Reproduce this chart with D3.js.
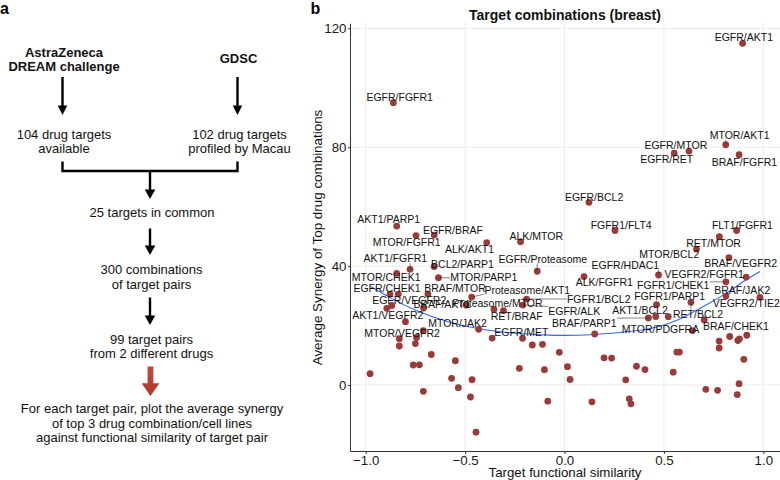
<!DOCTYPE html>
<html><head><meta charset="utf-8">
<script src="https://cdn.jsdelivr.net/npm/d3@7"></script>
<style>
body{margin:0;background:#fff}
svg{display:block}
text{font-family:"Liberation Sans",Arial,Helvetica,sans-serif}
</style>
</head><body>
<svg id="chart" width="780" height="480"></svg>
<script>
// ---------- data ----------
const similarity = [
 0.896,-0.861,0.811,0.626,0.552,0.878,0.123,-0.844,0.254,0.866,
 -0.655,-0.747,0.779,-0.391,-0.221,0.664,0.827,-0.777,-0.656,-0.137,
 -0.844,0.473,0.914,-0.634,0.098,0.812,-0.878,-0.836,-0.687,-0.467,
 -0.191,-0.894,-0.869,-0.709,-0.495,-0.355,-0.307,-0.210,0.812,0.983,
 0.463,0.636,0.422,0.459,0.522,0.703,0.644,0.152,-0.800,-0.432,
 -0.710,-0.744,-0.831,-0.750,-0.831,-0.364,-0.211,-0.162,-0.111,-0.026,
 -0.670,-0.549,-0.761,-0.730,-0.227,-0.101,0.015,-0.978,-0.568,-0.465,
 -0.534,-0.710,-0.473,-0.445,-0.084,0.028,0.138,0.199,0.237,0.308,
 0.326,0.334,0.362,0.405,0.547,0.565,0.578,0.711,0.770,0.778,
 0.778,0.831,0.872,0.880,0.917,0.902,0.878,0.869];
const synergy = [
 114.95,94.97,80.84,78.72,78.05,77.48,61.46,53.49,51.98,51.98,
 50.46,50.29,49.89,47.94,48.21,45.75,42.83,38.92,39.87,38.28,
 37.58,37.01,36.33,36.10,36.50,34.72,30.61,30.61,30.61,29.60,
 28.93,25.80,26.75,25.90,26.91,25.47,25.00,26.91,29.94,29.50,
 27.08,27.82,22.54,23.04,22.98,21.87,18.33,17.16,21.30,18.74,
 18.27,15.98,15.58,13.96,13.12,15.81,15.71,13.46,13.69,11.00,
 10.26,8.17,6.73,6.80,5.62,5.15,6.16,3.80,2.25,1.78,
 -0.91,-2.12,-4.04,-15.88,-5.45,1.85,-5.65,9.15,9.08,1.75,
 -4.64,-6.32,6.32,5.18,4.31,11.10,11.10,-1.45,-1.78,14.80,
 12.45,16.32,14.97,15.54,16.75,8.65,0.44,-3.20];

// labelled target pairs: name, index of its point (1-based)
const labelNames = ["EGFR/AKT1","EGFR/FGFR1","MTOR/AKT1","EGFR/MTOR","EGFR/RET","BRAF/FGFR1","EGFR/BCL2","AKT1/PARP1","FGFR1/FLT4","FLT1/FGFR1",
 "EGFR/BRAF","MTOR/FGFR1","RET/MTOR","ALK/AKT1","ALK/MTOR","MTOR/BCL2","BRAF/VEGFR2","AKT1/FGFR1","BCL2/PARP1","EGFR/Proteasome",
 "MTOR/CHEK1","EGFR/HDAC1","VEGFR2/FGFR1","MTOR/PARP1","ALK/FGFR1","FGFR1/CHEK1","EGFR/CHEK1","BRAF/MTOR","Proteasome/AKT1","FGFR1/BCL2",
 "EGFR/VEGFR2","BRAF/AKT1","Proteasome/MTOR","RET/BRAF","EGFR/ALK","BRAF/JAK2","VEGFR2/TIE2","FGFR1/PARP1","RET/BCL2","AKT1/BCL2",
 "BRAF/CHEK1","MTOR/PDGFRA","BRAF/PARP1","AKT1/VEGFR2","MTOR/JAK2","MTOR/VEGFR2","EGFR/MET"];
const labelPoint = [1,2,3,4,5,6,7,8,9,10, 11,12,13,14,15,16,17,18,19,20, 21,22,23,24,25,26,27,29,30,31,
 33,34,36,37,38,39,40,41,42,44, 46,47,43,49,50,51,57];
// repelled label centres, in data units
const labelX = [0.902,-0.829,0.881,0.560,0.514,0.905,0.149,-0.884,0.285,0.895,
 -0.561,-0.794,0.750,-0.478,-0.142,0.527,0.886,-0.851,-0.513,-0.109,
 -0.897,0.306,0.702,-0.406,0.200,0.547,-0.893,-0.551,-0.187,0.172,
 -0.781,-0.616,-0.337,-0.241,0.049,0.894,0.914,0.529,0.672,0.380,
 0.862,0.483,0.100,-0.889,-0.538,-0.817,-0.217];
const labelY = [116.9,96.7,84.0,80.5,76.0,74.9,63.2,55.7,53.7,53.7,
 52.2,48.1,47.8,45.7,49.9,44.0,40.8,42.5,40.7,42.3,
 36.3,40.2,37.4,36.3,34.7,33.5,32.5,32.5,32.0,28.7,
 28.5,27.2,27.5,23.0,24.8,32.0,27.5,29.8,23.8,25.0,
 19.8,18.9,20.9,23.4,20.9,17.3,17.9];

// smoothed trend
const smoothX = [-0.975,-0.945,-0.878,-0.743,-0.576,-0.408,-0.240,-0.073,0.0,0.145,0.313,0.480,0.565,0.648,0.730,0.816,0.900,0.983];
const smoothY = [33.2,32.0,29.4,25.0,21.1,18.7,17.4,16.8,16.7,17.0,17.9,19.8,21.8,24.6,27.6,31.0,34.8,38.2];

const xTicks = [-1,-0.5,0,0.5,1];
const yTicks = [0,40,80,120];

// flowchart text
const sourceLines = [["AstraZeneca","DREAM challenge"],["GDSC"]];
const countLines = [["104 drug targets","available"],["102 drug targets","profiled by Macau"]];
const stepLines = [["25 targets in common"],["300 combinations","of target pairs"],["99 target pairs","from 2 different drugs"]];
const resultLines = ["For each target pair, plot the average synergy","of top 3 drug combination/cell lines","against functional similarity of target pair"];

// ---------- drawing ----------
const svg = d3.select("#chart");
svg.append("rect").attr("width",780).attr("height",480).attr("fill","#fff");

// panel letters
svg.append("text").attr("x",0).attr("y",13.5).attr("font-size",16).attr("font-weight","bold").text("a");
svg.append("text").attr("x",310.5).attr("y",13.5).attr("font-size",16).attr("font-weight","bold").text("b");

// ---- panel a: flowchart ----
const fa = svg.append("g");
function arrow(x, y1, y2, w){
  w = w || 9.5;
  fa.append("line").attr("x1",x).attr("x2",x).attr("y1",y1).attr("y2",y2-8)
    .attr("stroke","#000").attr("stroke-width",2.4);
  fa.append("path").attr("d",`M${x-w/2},${y2-9.5}L${x+w/2},${y2-9.5}L${x},${y2}Z`).attr("fill","#000");
}
function lines(arr, x, y0, lh, bold){
  arr.forEach((t,i)=>fa.append("text").attr("x",x).attr("y",y0+i*lh)
    .attr("text-anchor","middle").attr("font-size",13).attr("font-weight",bold?"bold":"normal")
    .attr("fill","#111").text(t));
}
const colX = [62.5, 237.5];
lines(sourceLines[0], 64, 57, 13.5, true);
lines(sourceLines[1], 238.5, 62.7, 13.5, true);
arrow(colX[0], 77, 115);
arrow(colX[1], 77, 115);
lines(countLines[0], 64, 138.5, 14.5, false);
lines(countLines[1], 239.5, 138.5, 14.5, false);
fa.append("path").attr("d",`M${colX[0]},161.5V171H${colX[1]}V161.5`).attr("fill","none")
  .attr("stroke","#000").attr("stroke-width",2.4);
arrow(150, 171, 199, 10.5);
lines(stepLines[0], 152, 217, 14.5, false);
arrow(150, 228.5, 255, 10.5);
lines(stepLines[1], 151.5, 274, 14.5, false);
arrow(150, 297.5, 325, 10.5);
lines(stepLines[2], 151.5, 343.5, 14.5, false);
// red arrow
const grad = svg.append("defs").append("linearGradient").attr("id","rg").attr("x1",0).attr("x2",0).attr("y1",0).attr("y2",1);
grad.append("stop").attr("offset","0%").attr("stop-color","#c4493a");
grad.append("stop").attr("offset","100%").attr("stop-color","#a8382c");
fa.append("path").attr("d","M147.6,366.5H153.4V383.3H159.4L150.5,396L141.6,383.3H147.6Z")
  .attr("fill","url(#rg)");
lines(resultLines, 152, 413, 14.6, false);

// ---- panel b: scatter ----
const x = d3.scaleLinear().domain([-1.079,1.084]).range([350,780]);
const y = d3.scaleLinear().domain([-22.2,121.7]).range([451,23.3]);

const g = svg.append("g");
// grid
g.selectAll(".gx").data(xTicks).join("line").attr("x1",d=>x(d)).attr("x2",d=>x(d))
  .attr("y1",y.range()[1]).attr("y2",y.range()[0]).attr("stroke","#ebebeb").attr("stroke-width",1);
g.selectAll(".gy").data(yTicks).join("line").attr("y1",d=>y(d)).attr("y2",d=>y(d))
  .attr("x1",x.range()[0]).attr("x2",x.range()[1]).attr("stroke","#ebebeb").attr("stroke-width",1);

// axes
const xa = g.append("g").attr("transform","translate(0,451)")
  .call(d3.axisBottom(x).tickValues(xTicks).tickFormat(d3.format(".1f")).tickSizeInner(3).tickSizeOuter(0).tickPadding(1.5));
const ya = g.append("g").attr("transform","translate(350,0)")
  .call(d3.axisLeft(y).tickValues(yTicks).tickSizeInner(2).tickSizeOuter(0).tickPadding(1.5));
[xa,ya].forEach(a=>{
  a.select(".domain").attr("stroke","#333").attr("stroke-width",1);
  a.selectAll(".tick line").attr("stroke","#333");
  a.selectAll(".tick text").attr("font-size",13.3).attr("fill","#1a1a1a")
   .attr("font-family",'"Liberation Sans",Arial,Helvetica,sans-serif');
});

// axis titles & title
g.append("text").attr("x",565).attr("y",476.5).attr("text-anchor","middle").attr("font-size",13.3)
  .attr("fill","#111").text("Target functional similarity");
g.append("text").attr("transform","translate(321.5,237.5) rotate(-90)").attr("text-anchor","middle")
  .attr("font-size",13.4).attr("fill","#111").text("Average Synergy of Top drug combinations");
g.append("text").attr("x",565).attr("y",20).attr("text-anchor","middle").attr("font-size",14)
  .attr("font-weight","bold").attr("fill","#111").text("Target combinations (breast)");

// smooth
g.append("path").datum(smoothX.map((v,i)=>[v,smoothY[i]]))
  .attr("d",d3.line().x(d=>x(d[0])).y(d=>y(d[1])).curve(d3.curveMonotoneX))
  .attr("fill","none").attr("stroke","#3366FF").attr("stroke-width",1.1);

// points
const pts = similarity.map((v,i)=>({sx:v, sy:synergy[i]}));
g.selectAll(".pt").data(pts).join("circle").attr("class","pt")
  .attr("cx",d=>x(d.sx)).attr("cy",d=>y(d.sy)).attr("r",3.4).attr("fill","#9a3b3a");

// labels with repel segments
const segG = g.append("g");
const labG = g.append("g");
labelNames.forEach((name,i)=>{
  const p = pts[labelPoint[i]-1];
  const t = labG.append("text").attr("x",x(labelX[i])).attr("y",y(labelY[i])+3.7)
    .attr("text-anchor","middle").attr("font-size",10.5).attr("fill","#111").text(name);
  const b = t.node().getBBox();
  const px = x(p.sx), py = y(p.sy);
  const nx = Math.max(b.x, Math.min(px, b.x+b.width));
  const ny = Math.max(b.y+1.5, Math.min(py, b.y+b.height-1.5));
  const dist = Math.hypot(px-nx, py-ny);
  if(dist > 4.5){
    segG.append("line").attr("x1",px).attr("y1",py).attr("x2",nx).attr("y2",ny)
      .attr("stroke","#333").attr("stroke-width",0.6);
  }
});
</script>
</body></html>
